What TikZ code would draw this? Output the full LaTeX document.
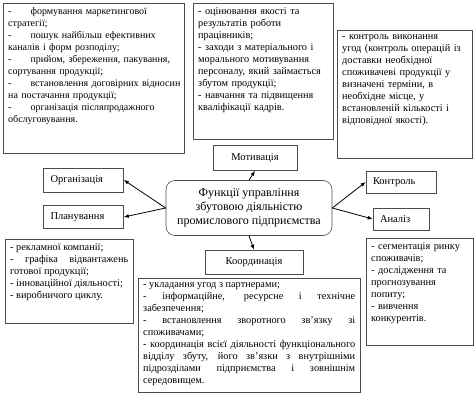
\documentclass[tikz,border=0pt]{standalone}
\usepackage{fontspec}
\setmainfont{Liberation Serif}
\usetikzlibrary{arrows.meta}
\tikzset{
  frame/.style={draw=black!70, line width=0.6pt, anchor=north west, inner sep=0pt},
  infotext/.style={anchor=north west, inner xsep=5pt, inner ysep=4pt, font=\fontsize{10.3}{12}\selectfont},
  funcbox/.style={draw=black!70, line width=0.6pt, inner xsep=7pt, inner ysep=0pt, font=\fontsize{10.5}{12}\selectfont},
  mainbox/.style={draw=black!70, line width=0.6pt, rounded corners=9pt, align=center, minimum width=166pt, minimum height=55pt, font=\fontsize{12}{14}\selectfont},
  link/.style={-{Latex[length=5pt,width=4pt]}, line width=0.8pt}
}
\begin{document}
\begin{tikzpicture}[x=1pt, y=-1pt]
\useasboundingbox (0,0) rectangle (476,406);
% frames of the text boxes
\node[frame, minimum width=181pt, minimum height=150pt] (orgbox) at (3,3) {};
\node[frame, minimum width=140pt, minimum height=136pt] (motbox) at (193,3) {};
\node[frame, minimum width=135pt, minimum height=128pt] (contrbox) at (337,30) {};
\node[frame, minimum width=128pt, minimum height=84pt] (planbox) at (5,239) {};
\node[frame, minimum width=222pt, minimum height=114pt] (coordbox) at (138,278) {};
\node[frame, minimum width=107pt, minimum height=107pt] (analbox) at (366,238) {};
% texts of the boxes
\node[infotext, text width=200pt, align=left, font=\fontsize{10}{12}\selectfont] (orgtext) at (orgbox.north west) {%
-\hspace{19pt}формування маркетингової\\стратегії;\\
-\hspace{19pt}пошук найбільш ефективних\\каналів і форм розподілу;\\
-\hspace{19pt}прийом, збереження, пакування,\\сортування продукції;\\
-\hspace{19pt}встановлення договірних відносин\\на постачання продукції;\\
-\hspace{19pt}організація післяпродажного\\обслуговування.};
\node[infotext, text width=150pt, align=left] (mottext) at (motbox.north west) {%
- оцінювання якості та\\результатів роботи\\працівників;\\
- заходи з матеріального і\\морального мотивування\\персоналу, який займається\\збутом продукції;\\
- навчання та підвищення\\кваліфікації кадрів.};
\node[infotext, text width=150pt, align=left] (contrtext) at (contrbox.north west) {%
- контроль виконання\\угод (контроль операцій із\\доставки необхідної\\споживачеві продукції у\\визначені терміни, в\\необхідне місце, у\\встановленій кількості і\\відповідної якості).};
\node[infotext, text width=118pt, align=justify] (plantext) at (planbox.north west) {%
\mbox{- рекламної компанії;}\\
- графіка відвантажень\linebreak
\mbox{готової продукції;}\\
\mbox{- інноваційної діяльності;}\\
\mbox{- виробничого циклу.}};
\node[infotext, text width=212pt, align=justify] (coordtext) at (coordbox.north west) {%
\mbox{- укладання угод з партнерами;}\\
- інформаційне, ресурсне і технічне\linebreak
\mbox{забезпечення;}\\
- встановлення зворотного зв’язку зі\linebreak
\mbox{споживачами;}\\
- координація всієї діяльності функціонального\linebreak
відділу збуту, його зв’язки з внутрішніми\linebreak
підрозділами підприємства і зовнішнім\linebreak
\mbox{середовищем.}};
\node[infotext, text width=120pt, align=left] (analtext) at (analbox.north west) {%
- сегментація ринку\\споживачів;\\
- дослідження та\\прогнозування\\попиту;\\
- вивчення\\конкурентів.};
% functions
\node[mainbox] (func) at (249,208) {Функції управління\\збутовою діяльністю\\промислового підприємства};
\node[funcbox, minimum width=84pt, minimum height=25pt] (mot) at (255,158) {Мотивація};
\node[funcbox, text width=66pt, minimum height=24pt] (org) at (83.5,180) {Організація};
\node[funcbox, text width=66pt, minimum height=23pt] (plan) at (83.5,217) {Планування};
\node[funcbox, text width=56pt, minimum height=22pt] (contr) at (401,182) {Контроль};
\node[funcbox, text width=42pt, minimum height=22pt] (anal) at (401,219) {Аналіз};
\node[funcbox, minimum width=98pt, minimum height=24pt] (coord) at (254,262) {Координація};
% arrows
\path [link] (func.west) edge (org.east);
\path [link] (func.west) edge (plan.east);
\path [link] (func.east) edge (contr.west);
\path [link] (func.east) edge (anal.west);
\path [link] (func.north) edge (mot.south);
\path [link] (func.south) edge (coord.north);
\end{tikzpicture}
\end{document}
